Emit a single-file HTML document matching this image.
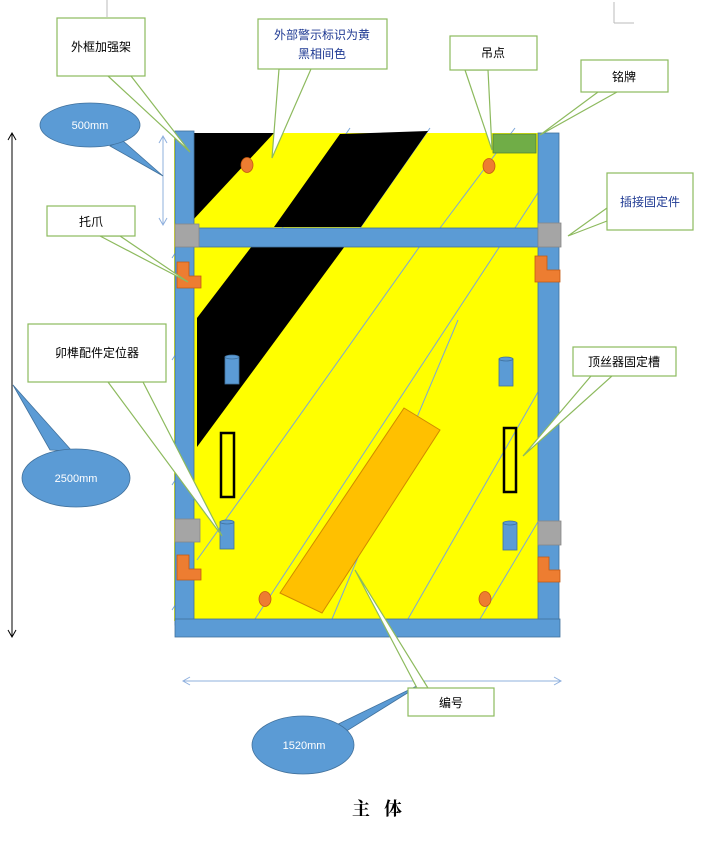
<!DOCTYPE html>
<html><head><meta charset="utf-8"><style>
html,body{margin:0;padding:0;background:#fff;width:707px;height:854px;overflow:hidden}
svg{display:block}
text{font-family:"Liberation Sans","Noto Sans CJK SC",sans-serif}
</style></head><body>
<svg width="707" height="854" viewBox="0 0 707 854" xmlns="http://www.w3.org/2000/svg">
<line x1="107" y1="0" x2="107" y2="17" stroke="#bbb" stroke-width="1"/>
<line x1="614" y1="2" x2="614" y2="23" stroke="#bbb" stroke-width="1"/>
<line x1="614" y1="23" x2="634" y2="23" stroke="#bbb" stroke-width="1"/>

<rect x="174" y="133" width="364" height="488" fill="#ffff00"/>
<g stroke="#7aa6d8" stroke-width="1" fill="none">
<line x1="350" y1="128" x2="270" y2="246"/>
<line x1="430" y1="128" x2="360" y2="228"/>
<line x1="515" y1="128" x2="440" y2="228"/>
<line x1="545" y1="182" x2="515" y2="228"/>
<line x1="420" y1="246" x2="197" y2="560"/>
<line x1="500" y1="246" x2="255" y2="619"/>
<line x1="458" y1="320" x2="332" y2="619"/>
<line x1="538" y1="392" x2="408" y2="619"/>
<line x1="545" y1="510" x2="480" y2="619"/>
<line x1="182" y1="345" x2="172" y2="360"/>
<line x1="182" y1="470" x2="172" y2="485"/>
<line x1="182" y1="595" x2="172" y2="610"/>
<line x1="182" y1="243" x2="172" y2="258"/>
</g>
<polygon points="193,133 274,133 193,220" fill="#000"/>
<polygon points="340,134 428,131 361,227 274,227" fill="#000"/>
<polygon points="252,246 345,246 197,447 197,318" fill="#000"/>

<rect x="175" y="131" width="19" height="494" fill="#5b9bd5" stroke="#41719c" stroke-width="0.8"/>
<rect x="538" y="133" width="21" height="492" fill="#5b9bd5" stroke="#41719c" stroke-width="0.8"/>
<rect x="193" y="228" width="345" height="19" fill="#5b9bd5" stroke="#41719c" stroke-width="0.8"/>
<rect x="175" y="619" width="385" height="18" fill="#5b9bd5" stroke="#41719c" stroke-width="0.8"/>
<rect x="175" y="224" width="24" height="23" fill="#a5a5a5" stroke="#888" stroke-width="0.8"/>
<rect x="538" y="223" width="23" height="24" fill="#a5a5a5" stroke="#888" stroke-width="0.8"/>
<rect x="175" y="519" width="25" height="23" fill="#a5a5a5" stroke="#888" stroke-width="0.8"/>
<rect x="538" y="521" width="23" height="24" fill="#a5a5a5" stroke="#888" stroke-width="0.8"/>
<g fill="#ed7d31" stroke="#c55a11" stroke-width="0.8">
<polygon points="177,262 189,262 189,276 201,276 201,288 177,288"/>
<polygon points="535,256 547,256 547,270 560,270 560,282 535,282"/>
<polygon points="177,555 189,555 189,569 201,569 201,580 177,580"/>
<polygon points="538,557 549,557 549,570 560,570 560,582 538,582"/>
</g>
<rect x="493" y="134" width="43" height="19" fill="#70ad47" stroke="#548235" stroke-width="0.8"/>
<g fill="#ed7d31" stroke="#c55a11" stroke-width="0.8">
<ellipse cx="247" cy="165" rx="6" ry="7.5"/>
<ellipse cx="489" cy="166" rx="6" ry="7.5"/>
<ellipse cx="265" cy="599" rx="6" ry="7.5"/>
<ellipse cx="485" cy="599" rx="6" ry="7.5"/>
</g>
<polygon points="404,408 440,430 322,613 280,593" fill="#ffc000" stroke="#d08a00" stroke-width="1"/>
<g fill="#5b9bd5" stroke="#41719c" stroke-width="0.8">
<rect x="225" y="357" width="14" height="27"/><ellipse cx="232" cy="357" rx="7" ry="2"/>
<rect x="499" y="359" width="14" height="27"/><ellipse cx="506" cy="359" rx="7" ry="2"/>
<rect x="220" y="522" width="14" height="27"/><ellipse cx="227" cy="522" rx="7" ry="2"/>
<rect x="503" y="523" width="14" height="27"/><ellipse cx="510" cy="523" rx="7" ry="2"/>
</g>
<rect x="221" y="433" width="13" height="64" fill="none" stroke="#000" stroke-width="2.5"/>
<rect x="504" y="428" width="12" height="64" fill="none" stroke="#000" stroke-width="2.5"/>

<g stroke="#000" stroke-width="1" fill="none">
<line x1="12" y1="133" x2="12" y2="637"/>
<polyline points="8,140 12,133 16,140"/>
<polyline points="8,630 12,637 16,630"/>
</g>
<g stroke="#8fb0de" stroke-width="1" fill="none">
<line x1="163" y1="136" x2="163" y2="225"/>
<polyline points="159,143 163,136 167,143"/>
<polyline points="159,218 163,225 167,218"/>
<line x1="183" y1="681" x2="561" y2="681"/>
<polyline points="190,677 183,681 190,685"/>
<polyline points="554,677 561,681 554,685"/>
</g>

<g fill="#5b9bd5" stroke="#41719c" stroke-width="0.8">
<path d="M122,140 L163,176 L110,146 Z"/>
<ellipse cx="90" cy="125" rx="50" ry="22"/>
<path d="M13,385 L50,450 L72,451 Z"/>
<ellipse cx="76" cy="478" rx="54" ry="29"/>
<path d="M330,728 L425,682 L345,732 Z"/>
<ellipse cx="303" cy="745" rx="51" ry="29"/>
</g>
<g fill="#fff" font-size="11">
<text x="90" y="129" text-anchor="middle">500mm</text>
<text x="76" y="482" text-anchor="middle">2500mm</text>
<text x="304" y="749" text-anchor="middle">1520mm</text>
</g>

<g fill="#fff" stroke="#8dba5e" stroke-width="1.2">
<polygon points="108,76 190,152 131,76"/>
<rect x="57" y="18" width="88" height="58"/>
<polygon points="279,69 272,158 311,69"/>
<rect x="258" y="19" width="129" height="50"/>
<polygon points="465,70 492,150 488,70"/>
<rect x="450" y="36" width="87" height="34"/>
<polygon points="598,92 540,135 617,92"/>
<rect x="581" y="60" width="87" height="32"/>
<polygon points="607,208 568,236 607,221"/>
<rect x="607" y="173" width="86" height="57"/>
<polygon points="100,236 188,282 120,236"/>
<rect x="47" y="206" width="88" height="30"/>
<polygon points="108,382 222,536 143,382"/>
<rect x="28" y="324" width="138" height="58"/>
<polygon points="591,376 523,456 612,376"/>
<rect x="573" y="347" width="103" height="29"/>
<polygon points="417,688 355,570 428,688"/>
<rect x="408" y="688" width="86" height="28"/>
</g>
<g font-size="12" fill="#000">
<text x="101" y="51" text-anchor="middle">外框加强架</text>
<text x="322" y="39" text-anchor="middle" fill="#1f3a93">外部警示标识为黄</text>
<text x="322" y="58" text-anchor="middle" fill="#1f3a93">黑相间色</text>
<text x="493" y="57" text-anchor="middle">吊点</text>
<text x="624" y="81" text-anchor="middle">铭牌</text>
<text x="650" y="206" text-anchor="middle" fill="#1f3a93">插接固定件</text>
<text x="91" y="226" text-anchor="middle">托爪</text>
<text x="97" y="357" text-anchor="middle">卯榫配件定位器</text>
<text x="624" y="366" text-anchor="middle">顶丝器固定槽</text>
<text x="451" y="707" text-anchor="middle">编号</text>
</g>
<text x="384" y="815" text-anchor="middle" font-size="18" font-weight="bold" style="font-family:'Liberation Serif','Noto Serif CJK SC',serif" letter-spacing="14">主体</text>
</svg>
</body></html>
